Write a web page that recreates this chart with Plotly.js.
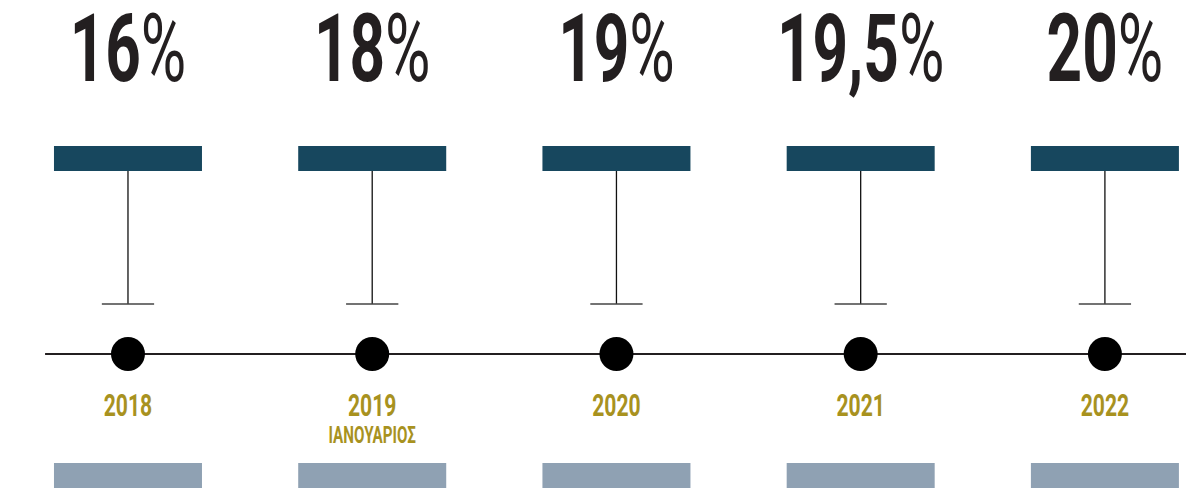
<!DOCTYPE html>
<html>
<head>
<meta charset="utf-8">
<script src="https://cdn.plot.ly/plotly-3.0.1.min.js"></script>
<style>
html,body{margin:0;padding:0;background:#fff;}
#chart{width:1186px;height:488px;}
/* condensed look: the reference uses a narrow typeface */
#chart .textpoint text{transform-box:fill-box;transform-origin:center;transform:scaleX(0.66);}
</style>
</head>
<body>
<div id="chart"></div>
<script>
// ---- data ----
const years = ['2018', '2019', '2020', '2021', '2022'];
const subLabels = ['', 'ΙΑΝΟΥΑΡΙΟΣ', '', '', ''];
const rates = [16, 18, 19, 19.5, 20];

// ---- styles ----
const FONT = 'Roboto, "DejaVu Sans Condensed", sans-serif';
const DARK = '#17475e';
const GREY = '#8fa1b3';
const GOLD = '#a8921f';
const INK = '#231f20';

const idx = years.map((_, i) => i);
const fmt = v => String(v).replace('.', ',');

const Y_PCT = 57, Y_BAR0 = 146, Y_BAR1 = 171, Y_STEM = 304, Y_LINE = 354,
      Y_YEAR = 408, Y_SUB = 437, Y_GBAR0 = 463, Y_GBAR1 = 492;
const HALF_BAR = 0.303, HALF_TICK = 0.107;

const shapes = [];
idx.forEach(i => {
  shapes.push({type:'rect', xref:'x', yref:'y', x0:i-HALF_BAR, x1:i+HALF_BAR, y0:Y_BAR0, y1:Y_BAR1,
               fillcolor:DARK, line:{width:0}, layer:'below'});
  shapes.push({type:'line', xref:'x', yref:'y', x0:i, x1:i, y0:Y_BAR1, y1:Y_STEM,
               line:{color:'#111', width:1.3}});
  shapes.push({type:'line', xref:'x', yref:'y', x0:i-HALF_TICK, x1:i+HALF_TICK, y0:Y_STEM, y1:Y_STEM,
               line:{color:'#444', width:1.4}});
  shapes.push({type:'rect', xref:'x', yref:'y', x0:i-HALF_BAR, x1:i+HALF_BAR, y0:Y_GBAR0, y1:Y_GBAR1,
               fillcolor:GREY, line:{width:0}, layer:'below'});
});
shapes.push({type:'line', xref:'paper', yref:'y', x0:0.038, x1:1, y0:Y_LINE, y1:Y_LINE,
             line:{color:INK, width:2.2}, layer:'below'});

const traces = [
  { // dots
    x: idx, y: idx.map(() => Y_LINE), mode:'markers', type:'scatter', hoverinfo:'skip',
    marker:{size:34, color:'#000', line:{width:0}}
  },
  { // percentages
    x: idx, y: idx.map(() => Y_PCT), mode:'text', type:'scatter', hoverinfo:'skip',
    text: rates.map(v => '<b>' + fmt(v) + '</b>%'),
    textposition:'middle center',
    textfont:{family:FONT, size:94, color:INK}
  },
  { // years
    x: idx, y: idx.map(() => Y_YEAR), mode:'text', type:'scatter', hoverinfo:'skip',
    text: years.map(y => '<b>' + y + '</b>'),
    textposition:'middle center',
    textfont:{family:FONT, size:32, color:GOLD}
  },
  { // sub labels
    x: idx, y: idx.map(() => Y_SUB), mode:'text', type:'scatter', hoverinfo:'skip',
    text: subLabels.map(s => s ? '<b>' + s + '</b>' : ''),
    textposition:'middle center',
    textfont:{family:FONT, size:23, color:GOLD}
  }
];

const layout = {
  width:1186, height:488,
  margin:{l:0, r:0, t:0, b:0},
  paper_bgcolor:'#fff', plot_bgcolor:'#fff',
  showlegend:false,
  xaxis:{range:[-0.524, 4.332], visible:false, fixedrange:true},
  yaxis:{range:[488, 0], visible:false, fixedrange:true},
  shapes: shapes
};

Plotly.newPlot('chart', traces, layout, {displayModeBar:false, staticPlot:true});
</script>
</body>
</html>
